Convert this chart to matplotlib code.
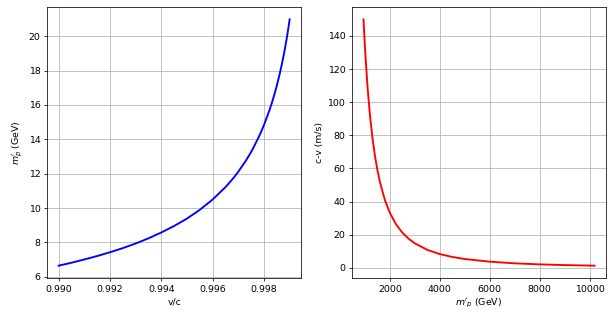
import matplotlib
matplotlib.use("Agg")
import matplotlib.pyplot as plt

# Left panel: relativistic mass vs v/c
beta = [0.9900, 0.9905, 0.9910, 0.9915, 0.9920, 0.9925, 0.9930, 0.9935, 0.9940,
        0.9945, 0.9950, 0.9955, 0.9960, 0.9965, 0.9968, 0.9970, 0.9973, 0.9975,
        0.9976, 0.9978, 0.9979, 0.9980, 0.9982, 0.9983, 0.9984, 0.9985, 0.9986,
        0.9987, 0.9988, 0.9989, 0.9990]
mass = [6.65, 6.82, 7.01, 7.21, 7.43, 7.67, 7.94, 8.24, 8.58,
        8.96, 9.39, 9.90, 10.50, 11.22, 11.73, 12.12, 12.77, 13.27,
        13.55, 14.15, 14.48, 14.84, 15.64, 16.09, 16.59, 17.13, 17.73,
        18.40, 19.15, 20.00, 20.98]

# Right panel: c - v vs mass
mass2 = [938, 1000, 1100, 1200, 1300, 1400, 1500, 1600, 1800, 2000, 2250, 2500,
         2750, 3000, 3500, 4000, 4500, 5000, 6000, 7000, 8000, 9000, 10200]
cminusv = [150.0, 132.0, 109.1, 91.7, 78.1, 67.3, 58.7, 51.6, 40.7, 33.0, 26.1, 21.1,
           17.5, 14.7, 10.8, 8.25, 6.52, 5.28, 3.67, 2.69, 2.06, 1.63, 1.27]

DPI = 611 / 9.0
fig = plt.figure(figsize=(9.0, 321 / DPI), dpi=DPI)
ax1 = fig.add_axes([0.077, 0.134, 0.416, 0.844])
ax2 = fig.add_axes([0.576, 0.134, 0.416, 0.844])

ax1.plot(beta, mass, color='b', linewidth=2)
ax1.set_xlabel('v/c')
ax1.set_ylabel(r"$m_p'$ (GeV)")
ax1.set_xticks([0.990, 0.992, 0.994, 0.996, 0.998])
ax1.set_yticks([6, 8, 10, 12, 14, 16, 18, 20])
ax1.grid(True)

ax2.plot(mass2, cminusv, color='r', linewidth=2)
ax2.set_xlabel(r"$m'_p$ (GeV)")
ax2.set_ylabel('c-v (m/s)')
ax2.set_xticks([2000, 4000, 6000, 8000, 10000])
ax2.set_yticks([0, 20, 40, 60, 80, 100, 120, 140])
ax2.grid(True)

fig.savefig('out.png', dpi=DPI)
